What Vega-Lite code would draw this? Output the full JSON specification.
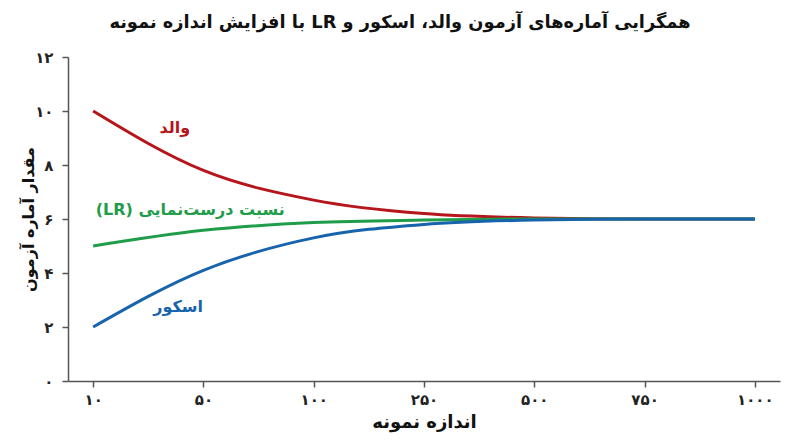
{
  "$schema": "https://vega.github.io/schema/vega-lite/v6.json",
  "width": 712,
  "height": 324,
  "autosize": "none",
  "padding": {"left": 68, "top": 57, "right": 20, "bottom": 66},
  "background": "white",
  "title": {
    "text": "\u202bهمگرایی آماره‌های آزمون والد، اسکور و LR با افزایش اندازه نمونه\u202c",
    "font": "DejaVu Sans",
    "fontSize": 17.8,
    "fontWeight": "bold",
    "color": "#111111",
    "anchor": "middle",
    "frame": "group",
    "offset": 18,
    "dx": -24
  },
  "config": {
    "view": {"stroke": null},
    "font": "DejaVu Sans"
  },
  "datasets": {
    "curves": [
      {"idx": 0, "n": 10, "test": "والد", "value": 10.0},
      {"idx": 1, "n": 50, "test": "والد", "value": 7.8},
      {"idx": 2, "n": 100, "test": "والد", "value": 6.7},
      {"idx": 3, "n": 250, "test": "والد", "value": 6.2},
      {"idx": 4, "n": 500, "test": "والد", "value": 6.04},
      {"idx": 5, "n": 750, "test": "والد", "value": 6.0},
      {"idx": 6, "n": 1000, "test": "والد", "value": 6.0},
      {"idx": 0, "n": 10, "test": "LR", "value": 5.0},
      {"idx": 1, "n": 50, "test": "LR", "value": 5.58},
      {"idx": 2, "n": 100, "test": "LR", "value": 5.87},
      {"idx": 3, "n": 250, "test": "LR", "value": 5.96},
      {"idx": 4, "n": 500, "test": "LR", "value": 6.0},
      {"idx": 5, "n": 750, "test": "LR", "value": 6.0},
      {"idx": 6, "n": 1000, "test": "LR", "value": 6.0},
      {"idx": 0, "n": 10, "test": "اسکور", "value": 2.0},
      {"idx": 1, "n": 50, "test": "اسکور", "value": 4.1},
      {"idx": 2, "n": 100, "test": "اسکور", "value": 5.3},
      {"idx": 3, "n": 250, "test": "اسکور", "value": 5.8},
      {"idx": 4, "n": 500, "test": "اسکور", "value": 5.96},
      {"idx": 5, "n": 750, "test": "اسکور", "value": 6.0},
      {"idx": 6, "n": 1000, "test": "اسکور", "value": 6.0}
    ],
    "labels": [
      {"idx": 0.74, "value": 9.36, "test": "والد", "label": "والد"},
      {"idx": 0.88, "value": 6.32, "test": "LR", "label": "\u202bنسبت درست‌نمایی (LR)\u202c"},
      {"idx": 0.77, "value": 2.73, "test": "اسکور", "label": "اسکور"}
    ]
  },
  "encoding": {
    "x": {
      "field": "idx",
      "type": "quantitative",
      "scale": {"domain": [-0.228, 6.228], "nice": false, "zero": false},
      "axis": {
        "values": [0, 1, 2, 3, 4, 5, 6],
        "labelExpr": "['۱۰','۵۰','۱۰۰','۲۵۰','۵۰۰','۷۵۰','۱۰۰۰'][datum.value]",
        "grid": false,
        "domainColor": "#555555",
        "domainWidth": 1.5,
        "tickColor": "#555555",
        "tickWidth": 1.5,
        "tickSize": 6,
        "labelFontSize": 15,
        "labelFontWeight": "bold",
        "labelColor": "#222222",
        "labelPadding": 5,
        "title": "اندازه نمونه",
        "titleFontSize": 18,
        "titleFontWeight": "bold",
        "titleColor": "#111111",
        "titlePadding": 6
      }
    },
    "y": {
      "field": "value",
      "type": "quantitative",
      "scale": {"domain": [0, 12], "nice": false},
      "axis": {
        "values": [0, 2, 4, 6, 8, 10, 12],
        "labelExpr": "replace(replace(replace(replace(replace(replace(datum.label,'0','۰'),'1','۱'),'2','۲'),'4','۴'),'6','۶'),'8','۸')",
        "grid": false,
        "domainColor": "#555555",
        "domainWidth": 1.5,
        "tickColor": "#555555",
        "tickWidth": 1.5,
        "tickSize": 6,
        "labelFontSize": 15,
        "labelFontWeight": "bold",
        "labelColor": "#222222",
        "labelPadding": 9,
        "title": "مقدار آماره آزمون",
        "titleFontSize": 16,
        "titleFontWeight": "bold",
        "titleColor": "#111111",
        "titleX": -40,
        "titleBaseline": "middle"
      }
    },
    "color": {
      "field": "test",
      "type": "nominal",
      "scale": {
        "domain": ["والد", "LR", "اسکور"],
        "range": ["#b5151b", "#1f9d4a", "#1764ad"]
      },
      "legend": null
    }
  },
  "layer": [
    {
      "data": {"name": "curves"},
      "mark": {"type": "line", "strokeWidth": 3, "interpolate": "monotone"},
      "encoding": {"detail": {"field": "test"}}
    },
    {
      "data": {"name": "labels"},
      "mark": {
        "type": "text",
        "fontSize": 16,
        "fontWeight": "bold",
        "align": "center",
        "baseline": "middle"
      },
      "encoding": {"text": {"field": "label"}}
    }
  ]
}
